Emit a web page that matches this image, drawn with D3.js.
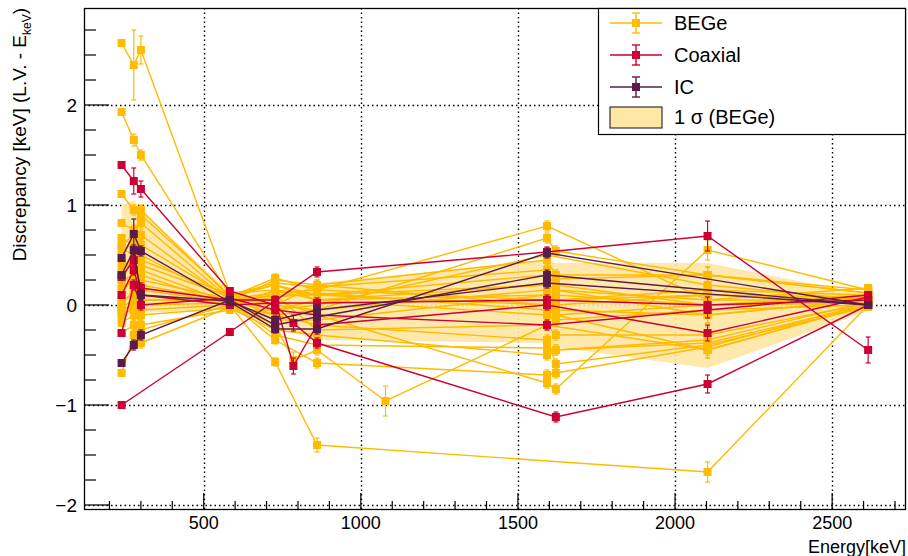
<!DOCTYPE html>
<html>
<head>
<meta charset="utf-8">
<script src="https://cdn.jsdelivr.net/npm/d3@7"></script>
<style>
  body { margin: 0; background: #fff; }
  svg { display: block; font-family: "Liberation Sans", Arial, sans-serif; }
</style>
</head>
<body>
<svg id="chart" width="908" height="556"></svg>
<script>
// calibration lines (keV)
const energies = [238.6, 277.4, 300.1, 583.2, 727.3, 785.4, 860.6, 1078.6, 1592.5, 1620.7, 2103.5, 2614.5];
const defaultErr = [0.03, 0.05, 0.05, 0.03, 0.04, 0.08, 0.05, 0.15, 0.05, 0.05, 0.08, 0.03];
const n = null;

const begeSeries = [
  [2.62, 2.40, 2.55, 0.12, 0.15, n, 0.05, n, 0.10, 0.05, 0.10, 0.05],
  [1.93, 1.65, 1.50, 0.10, 0.22, n, 0.18, n, 0.35, 0.26, 0.30, 0.12],
  [1.11, 0.95, 0.95, 0.08, 0.27, n, 0.15, n, 0.79, n, 0.05, 0.17],
  [0.82, 0.75, 0.82, 0.06, -0.10, n, -0.05, n, 0.67, 0.54, 0.30, 0.15],
  [0.67, 0.60, 0.70, 0.05, 0.10, n, 0.10, n, 0.20, 0.15, 0.05, 0.05],
  [0.57, 0.50, 0.60, 0.07, 0.00, n, -0.05, n, 0.15, 0.10, 0.00, 0.02],
  [0.43, 0.40, 0.50, 0.03, -0.30, n, -0.40, n, -0.43, -0.45, -0.38, 0.00],
  [0.25, 0.30, 0.35, 0.02, -0.35, n, -0.58, n, -0.70, -0.68, -0.42, 0.02],
  [0.15, 0.25, 0.30, 0.00, -0.57, n, -1.40, n, n, n, -1.67, 0.00],
  [0.05, 0.10, 0.20, 0.04, 0.25, n, 0.20, n, 0.00, -0.05, -0.10, 0.05],
  [-0.02, 0.05, 0.10, 0.01, -0.20, -0.55, -0.45, -0.96, -0.20, n, -0.45, 0.00],
  [-0.08, -0.05, 0.05, 0.05, 0.05, n, -0.10, n, -0.78, -0.84, 0.55, 0.15],
  [-0.18, -0.10, -0.05, 0.00, -0.10, n, -0.20, n, -0.35, -0.59, -0.40, -0.02],
  [-0.28, -0.20, -0.38, -0.02, 0.15, n, 0.10, n, 0.30, 0.20, 0.00, 0.10],
  [-0.68, -0.30, -0.20, -0.05, -0.05, n, 0.00, n, 0.50, n, 0.20, 0.05],
  [0.35, 0.45, 0.40, 0.08, 0.20, n, 0.05, n, -0.10, -0.15, -0.05, 0.00],
  [0.20, 0.55, 0.25, 0.06, 0.12, n, 0.15, n, 0.05, 0.00, 0.10, 0.08],
  [0.00, 0.15, -0.10, -0.03, -0.25, n, -0.30, n, -0.50, -0.45, -0.35, 0.03],
  [0.10, 0.30, 0.15, 0.03, -0.15, n, -0.15, n, 0.10, 0.05, 0.15, 0.10],
  [-0.12, 0.00, -0.25, 0.00, 0.08, n, 0.12, n, -0.05, -0.10, -0.45, 0.00],
  [0.50, 0.65, 0.45, 0.10, 0.00, n, 0.20, n, 0.45, 0.30, 0.30, 0.12],
  [0.30, 0.20, 0.00, 0.02, 0.10, n, -0.25, n, -0.20, -0.30, -0.30, 0.02],
  [-0.05, 0.00, 0.05, 0.04, -0.05, n, 0.05, n, 0.20, 0.15, -0.10, 0.05],
  [0.60, 0.70, 0.90, 0.10, 0.20, n, 0.10, n, 0.00, -0.10, 0.00, 0.08]
];

const coaxSeries = [
  [1.40, 1.24, 1.16, 0.14, 0.00, -0.18, -0.38, n, n, -1.12, -0.79, 0.00],
  [-1.00, n, n, -0.27, n, n, 0.33, n, 0.53, n, 0.69, -0.45],
  [0.28, 0.45, 0.17, 0.05, 0.05, -0.61, -0.20, n, 0.00, n, -0.28, 0.08],
  [-0.28, 0.20, 0.00, 0.07, -0.05, n, -0.10, n, -0.20, n, -0.05, 0.10],
  [0.10, 0.35, 0.10, 0.00, 0.02, n, 0.02, n, 0.05, n, 0.00, 0.05]
];

const icSeries = [
  [0.47, 0.71, 0.54, 0.03, -0.24, n, -0.24, n, 0.52, n, n, 0.00],
  [-0.58, -0.40, -0.30, 0.05, -0.20, n, -0.12, n, 0.30, n, n, 0.00],
  [0.30, 0.55, 0.10, 0.04, -0.15, n, -0.05, n, 0.22, n, n, 0.00]
];

// larger error bars: [group, series, energy index, error]
const errOverrides = [
  ['bege', 0, 1, 0.35], ['bege', 0, 2, 0.14], ['bege', 1, 1, 0.06],
  ['coax', 0, 1, 0.13], ['coax', 0, 2, 0.08], ['coax', 1, 10, 0.15],
  ['coax', 1, 11, 0.13], ['coax', 0, 10, 0.09], ['bege', 8, 6, 0.07], ['bege', 8, 10, 0.1],
  ['bege', 11, 10, 0.1], ['ic', 0, 1, 0.15]
];

// 1 sigma band of BEGe
const bandEnergies = [238.6, 277.4, 300.1, 583.2, 727.3, 860.6, 1592.5, 1620.7, 2103.5, 2614.5];
const bandLow = [-0.15, -0.05, -0.08, -0.04, -0.22, -0.35, -0.38, -0.42, -0.63, -0.06];
const bandHigh = [1.00, 1.05, 0.95, 0.13, 0.14, 0.22, 0.45, 0.42, 0.42, 0.10];

const xTicks = [500, 1000, 1500, 2000, 2500];
const yTicks = [-2, -1, 0, 1, 2];

const colors = { bege: '#ffbb00', coax: '#cc0033', ic: '#5c1a48' };
const legendItems = [
  { label: 'BEGe', key: 'bege' },
  { label: 'Coaxial', key: 'coax' },
  { label: 'IC', key: 'ic' }
];

const margin = { left: 84, right: 2, top: 8, bottom: 47 };
const W = 908, H = 556;
const svg = d3.select('#chart');

const x = d3.scaleLinear().domain([119, 2735]).range([margin.left, W - margin.right]);
const y = d3.scaleLinear().domain([-2.04, 2.97]).range([H - margin.bottom, margin.top]);

const x0 = x.range()[0], x1 = x.range()[1], y0 = y.range()[0], y1 = y.range()[1];

// grid
const grid = svg.append('g').attr('stroke', '#000').attr('stroke-width', 1.4).attr('stroke-dasharray', '1.5,3');
grid.selectAll('.gx').data(xTicks).join('line')
  .attr('x1', d => Math.round(x(d)) + 0.5).attr('x2', d => Math.round(x(d)) + 0.5)
  .attr('y1', y1).attr('y2', y0);
grid.selectAll('.gy').data(yTicks).join('line')
  .attr('y1', d => Math.round(y(d)) + 0.5).attr('y2', d => Math.round(y(d)) + 0.5)
  .attr('x1', x0).attr('x2', x1);

// band
const bandData = bandEnergies.map((e, i) => ({ e, lo: bandLow[i], hi: bandHigh[i] }));
svg.append('path').datum(bandData)
  .attr('fill', '#ffe6a3').attr('fill-opacity', 0.9)
  .attr('d', d3.area().x(d => x(d.e)).y0(d => y(d.lo)).y1(d => y(d.hi)));

function errFor(group, s, i) {
  const o = errOverrides.find(r => r[0] === group && r[1] === s && r[2] === i);
  return o ? o[3] : defaultErr[i];
}

const line = d3.line().defined(d => d.v !== null).x(d => x(d.e)).y(d => y(d.v));

function drawGroup(series, key) {
  const g = svg.append('g');
  const col = colors[key];
  series.forEach((vals, s) => {
    const pts = vals.map((v, i) => ({ e: energies[i], v, err: errFor(key, s, i) }))
      .filter(d => d.v !== null);
    g.append('path').datum(pts).attr('fill', 'none').attr('stroke', col)
      .attr('stroke-width', 1.4).attr('d', line);
    const eg = g.append('g').attr('stroke', col).attr('stroke-width', 1.2);
    pts.forEach(d => {
      const cx = x(d.e);
      eg.append('line').attr('x1', cx).attr('x2', cx).attr('y1', y(d.v - d.err)).attr('y2', y(d.v + d.err));
      eg.append('line').attr('x1', cx - 2.5).attr('x2', cx + 2.5).attr('y1', y(d.v - d.err)).attr('y2', y(d.v - d.err));
      eg.append('line').attr('x1', cx - 2.5).attr('x2', cx + 2.5).attr('y1', y(d.v + d.err)).attr('y2', y(d.v + d.err));
    });
    g.selectAll(null).data(pts).join('rect')
      .attr('x', d => x(d.e) - 4).attr('y', d => y(d.v) - 4)
      .attr('width', 8).attr('height', 8).attr('fill', col);
  });
}

drawGroup(begeSeries, 'bege');
drawGroup(coaxSeries, 'coax');
drawGroup(icSeries, 'ic');

// frame
svg.append('rect').attr('x', x0 + 0.5).attr('y', y1 + 0.5)
  .attr('width', x1 - x0 - 1).attr('height', y0 - y1)
  .attr('fill', 'none').attr('stroke', '#000').attr('stroke-width', 1.3);

// axes ticks (ROOT style, inside the frame)
const ax = svg.append('g').attr('stroke', '#000').attr('stroke-width', 1.2);
const xMinor = d3.range(200, 2701, 100).filter(v => v % 500 !== 0);
ax.selectAll('.xt').data(xTicks).join('line')
  .attr('x1', d => x(d)).attr('x2', d => x(d)).attr('y1', y0).attr('y2', y0 - 16);
ax.selectAll('.xm').data(xMinor).join('line')
  .attr('x1', d => x(d)).attr('x2', d => x(d)).attr('y1', y0).attr('y2', y0 - 8);
const yMinor = d3.range(-2, 2.76, 0.25).filter(v => Math.abs(v - Math.round(v)) > 0.01);
ax.selectAll('.yt').data(yTicks).join('line')
  .attr('x1', x0).attr('x2', x0 + 25).attr('y1', d => y(d)).attr('y2', d => y(d));
ax.selectAll('.ym').data(yMinor).join('line')
  .attr('x1', x0).attr('x2', x0 + 12).attr('y1', d => y(d)).attr('y2', d => y(d));

// tick labels
svg.selectAll('.xl').data(xTicks).join('text')
  .attr('x', d => x(d)).attr('y', y0 + 20).attr('text-anchor', 'middle')
  .attr('font-size', 18).text(d => d);
svg.selectAll('.yl').data(yTicks).join('text')
  .attr('x', x0 - 7).attr('y', d => y(d) + 7).attr('text-anchor', 'end')
  .attr('font-size', 19).text(d => d < 0 ? '\u2212' + Math.abs(d) : d);

// axis titles
svg.append('text').attr('x', x1).attr('y', H - 3).attr('text-anchor', 'end')
  .attr('font-size', 18).text('Energy[keV]');
const yt = svg.append('text').attr('transform', `translate(26,${y1}) rotate(-90)`)
  .attr('text-anchor', 'end').attr('font-size', 19);
yt.append('tspan').text('Discrepancy [keV] (L.V. - E');
yt.append('tspan').attr('font-size', 12).attr('dy', 5).text('keV');
yt.append('tspan').attr('dy', -5).text(')');

// legend
const lg = svg.append('g');
lg.append('rect').attr('x', 598.5).attr('y', 8.5).attr('width', 307).attr('height', 126)
  .attr('fill', '#fff').attr('stroke', '#000').attr('stroke-width', 1.2);
legendItems.forEach((it, i) => {
  const cy = 23 + i * 32;
  const col = colors[it.key];
  lg.append('line').attr('x1', 610).attr('x2', 662).attr('y1', cy).attr('y2', cy)
    .attr('stroke', col).attr('stroke-width', 1.4);
  lg.append('line').attr('x1', 636).attr('x2', 636).attr('y1', cy - 10).attr('y2', cy + 10)
    .attr('stroke', col).attr('stroke-width', 1.4);
  [cy - 10, cy + 10].forEach(yy => lg.append('line').attr('x1', 632).attr('x2', 640)
    .attr('y1', yy).attr('y2', yy).attr('stroke', col).attr('stroke-width', 1.4));
  lg.append('rect').attr('x', 632).attr('y', cy - 4).attr('width', 8).attr('height', 8).attr('fill', col);
  lg.append('text').attr('x', 674).attr('y', cy + 7).attr('font-size', 20).text(it.label);
});
lg.append('rect').attr('x', 610).attr('y', 107).attr('width', 52).attr('height', 21)
  .attr('fill', '#ffe6a3').attr('stroke', '#333').attr('stroke-width', 1.2);
lg.append('text').attr('x', 674).attr('y', 124).attr('font-size', 20).text('1 \u03c3 (BEGe)');
</script>
</body>
</html>
